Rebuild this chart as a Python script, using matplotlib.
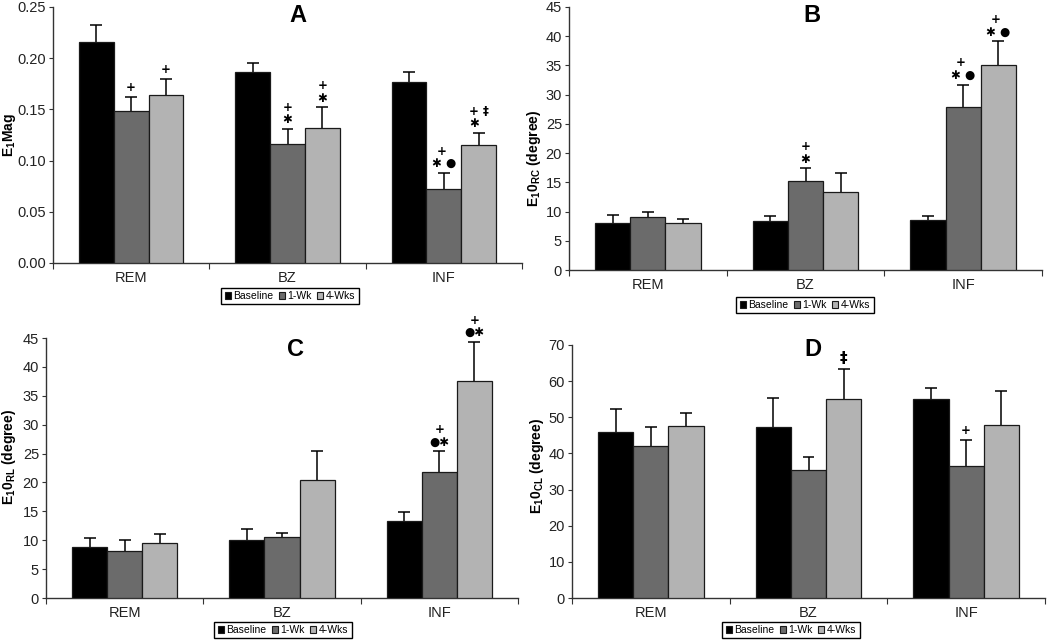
import matplotlib
matplotlib.use("Agg")
import matplotlib.pyplot as plt
import numpy as np
from matplotlib.patches import Patch

plt.rcParams['font.family'] = ['Liberation Sans', 'DejaVu Sans']
plt.rcParams['mathtext.fontset'] = 'custom'
plt.rcParams['mathtext.rm'] = 'Liberation Sans'
plt.rcParams['mathtext.bf'] = 'Liberation Sans:bold'

categories = ["REM", "BZ", "INF"]
series = ["Baseline", "1-Wk", "4-Wks"]
colors = ["#000000", "#6b6b6b", "#b3b3b3"]

# Panel A: E1Mag
a_base = [0.216, 0.187, 0.177]
a_base_err = [0.016, 0.008, 0.010]
a_1wk = [0.148, 0.116, 0.072]
a_1wk_err = [0.014, 0.015, 0.016]
a_4wk = [0.164, 0.132, 0.115]
a_4wk_err = [0.016, 0.020, 0.012]
a_marks = {(1, 0): "+", (2, 0): "+", (1, 1): "+\n✱", (2, 1): "+\n✱",
           (1, 2): "+ \n✱ ●", (2, 2): "+ ‡\n✱  "}

# Panel B: E1θRC
b_base = [8.0, 8.4, 8.5]
b_base_err = [1.4, 0.8, 0.7]
b_1wk = [9.0, 15.3, 27.9]
b_1wk_err = [1.0, 2.1, 3.8]
b_4wk = [8.1, 13.3, 35.0]
b_4wk_err = [0.6, 3.3, 4.1]
b_marks = {(1, 1): "+\n✱", (1, 2): "+ \n✱ ●", (2, 2): "+ \n✱ ●"}

# Panel C: E1θRL
c_base = [8.85, 10.0, 13.4]
c_base_err = [1.45, 2.0, 1.5]
c_1wk = [8.1, 10.5, 21.8]
c_1wk_err = [1.9, 0.8, 3.6]
c_4wk = [9.6, 20.5, 37.5]
c_4wk_err = [1.5, 4.9, 6.8]
c_marks = {(1, 2): "+\n●✱", (2, 2): "+\n●✱"}

# Panel D: E1θCL
d_base = [46.0, 47.2, 55.0]
d_base_err = [6.4, 8.2, 3.0]
d_1wk = [42.0, 35.5, 36.4]
d_1wk_err = [5.2, 3.6, 7.3]
d_4wk = [47.5, 55.0, 48.0]
d_4wk_err = [3.6, 8.4, 9.4]
d_marks = {(2, 1): "‡", (1, 2): "+"}

W, H = 1050, 641
fig = plt.figure(figsize=(W / 100, H / 100), dpi=100)


def rect(l, r, t, b):
    return [l / W, 1 - b / H, (r - l) / W, (b - t) / H]


def panel(box, vals, errs, marks, ymax, ystep, fmt, title, title_xy,
          ylabel, ylabel_xy, leg_xy):
    ax = fig.add_axes(rect(*box))
    width = 0.223
    x0 = np.arange(len(categories)) + 0.5
    for i, (v, e) in enumerate(zip(vals, errs)):
        x = x0 + (i - 1) * width
        ax.bar(x, v, width=width, color=colors[i], edgecolor="#1a1a1a",
               linewidth=0.9, zorder=3)
        v = np.asarray(v)
        e = np.asarray(e)
        ax.vlines(x, v, v + e, color="black", lw=1.1, zorder=2)
        ax.hlines(v + e, x - 0.038, x + 0.038, color="black", lw=1.1, zorder=2)
        for j in range(len(categories)):
            key = (i, j)
            if key in marks:
                txt = marks[key]
                fs = 11 if txt == "‡" else 8.5
                ax.annotate(txt, (x[j], v[j] + e[j]),
                            xytext=(0, 2), textcoords="offset points",
                            ha="center", va="bottom", fontsize=fs,
                            fontweight="bold", linespacing=0.95,
                            family=['DejaVu Sans'], zorder=4)
    ax.set_xlim(0, 3)
    ax.set_ylim(0, ymax)
    ax.set_yticks(np.arange(0, ymax + ystep / 2, ystep))
    ax.yaxis.set_major_formatter(matplotlib.ticker.FormatStrFormatter(fmt))
    ax.set_xticks([0, 1, 2, 3])
    ax.set_xticklabels([])
    ax.set_xticks(x0, minor=True)
    ax.set_xticklabels(categories, minor=True)
    ax.tick_params(axis="x", which="minor", length=0, labelsize=10.5,
                   pad=6, colors="#222222")
    ax.tick_params(axis="x", which="major", length=4, direction="out",
                   color="#333333")
    ax.tick_params(axis="y", length=3, direction="out", labelsize=10.5,
                   colors="#222222", color="#333333", pad=2)
    for s in ["top", "right"]:
        ax.spines[s].set_visible(False)
    for s in ["left", "bottom"]:
        ax.spines[s].set_color("#333333")
        ax.spines[s].set_linewidth(1.0)
    fig.text(title_xy[0] / W, 1 - title_xy[1] / H, title, ha="center",
             va="center", fontsize=17, fontweight="bold")
    fig.text(ylabel_xy[0] / W, 1 - ylabel_xy[1] / H, ylabel, rotation=90,
             ha="center", va="center", fontsize=10, fontweight="bold")
    handles = [Patch(facecolor=c, edgecolor="#1a1a1a", lw=0.8) for c in colors]
    leg = fig.legend(handles, series, loc="center",
                     bbox_to_anchor=(leg_xy[0] / W, 1 - leg_xy[1] / H),
                     ncol=3, fontsize=7.5, handlelength=0.6, handleheight=0.6,
                     handletextpad=0.25, columnspacing=0.5, borderpad=0.3,
                     fancybox=False, edgecolor="black", framealpha=1)
    leg.get_frame().set_linewidth(1.0)
    return ax


panel((53, 522, 7, 263), [a_base, a_1wk, a_4wk], [a_base_err, a_1wk_err, a_4wk_err],
      a_marks, 0.25, 0.05, "%.2f", "A", (298, 15), r"E$_\mathbf{1}$Mag", (9, 135),
      (290, 296))
panel((569, 1042, 7, 270), [b_base, b_1wk, b_4wk], [b_base_err, b_1wk_err, b_4wk_err],
      b_marks, 45, 5, "%d", "B", (812, 15), r"E$_\mathbf{1}$0$_\mathbf{RC}$ (degree)",
      (534, 158), (805, 305))
panel((46, 518, 338, 598), [c_base, c_1wk, c_4wk], [c_base_err, c_1wk_err, c_4wk_err],
      c_marks, 45, 5, "%d", "C", (296, 350), r"E$_\mathbf{1}$0$_\mathbf{RL}$ (degree)",
      (9, 457), (283, 630))
panel((572, 1045, 345, 598), [d_base, d_1wk, d_4wk], [d_base_err, d_1wk_err, d_4wk_err],
      d_marks, 70, 10, "%d", "D", (813, 350), r"E$_\mathbf{1}$0$_\mathbf{CL}$ (degree)",
      (537, 466), (791, 630))

fig.savefig("out.png", dpi=100)
